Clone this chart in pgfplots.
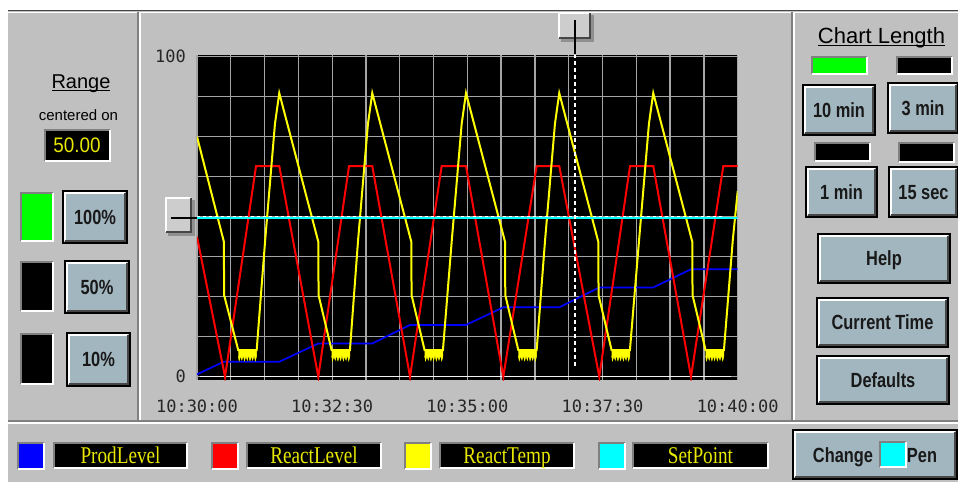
\documentclass[border=0pt]{standalone}
\usepackage{pgfplots}
\pgfplotsset{compat=1.18}
\usepackage{fontspec}
\setmainfont{Liberation Sans}
\newfontfamily\btnfont{Liberation Sans}[FakeStretch=0.8]
\newfontfamily\legfont{Liberation Serif}[FakeStretch=0.8]
\newfontfamily\numfont{Liberation Sans}[FakeStretch=0.9]
\newfontfamily\monofont{DejaVu Sans Mono}
\definecolor{guigray}{RGB}{192,192,192}
\definecolor{btncol}{RGB}{162,182,192}
\definecolor{shadowc}{RGB}{70,70,70}
\definecolor{sepc}{RGB}{128,128,128}
\definecolor{gridgray}{RGB}{165,165,165}
\definecolor{legyellow}{RGB}{232,232,0}
\definecolor{pblue}{RGB}{0,0,255}
\definecolor{pred}{RGB}{255,0,0}
\definecolor{pyellow}{RGB}{255,255,0}
\definecolor{pcyan}{RGB}{0,255,255}
% button: x1 y1 x2 y2 label  (y downward)
\newcommand{\btn}[5]{%
  \fill[btncol] (#1,#2) rectangle (#3,#4);
  \draw[white,line width=2pt] ({#1+2},{#4-2}) -- ({#1+2},{#2+2}) -- ({#3-2},{#2+2});
  \draw[shadowc,line width=2pt] ({#1+2},{#4-2}) -- ({#3-2},{#4-2}) -- ({#3-2},{#2+2});
  \draw[black,line width=1.2pt] (#1,#2) rectangle (#3,#4);
  \node[font=\btnfont\bfseries\fontsize{20.5}{22}\selectfont, text=black!90,
        text height=14.6pt, text depth=0pt, inner sep=0pt]
        at ({(#1+#3)/2},{(#2+#4)/2}) {#5};
}
% sunken indicator: x1 y1 x2 y2 colour
\newcommand{\ind}[5]{%
  \fill[#5] (#1,#2) rectangle (#3,#4);
  \draw[sepc,line width=1.2pt] (#1,#4) -- (#1,#2) -- (#3,#2);
  \draw[white,line width=1.2pt] (#1,#4) -- (#3,#4) -- (#3,#2);
}
\begin{document}
\begin{tikzpicture}
\begin{scope}[x=1pt,y=-1pt]
\fill[white] (0,0) rectangle (958,482);
\fill[guigray] (8,10) rectangle (958,482);
\draw[shadowc, line width=1.5pt] (8,10.5) -- (958,10.5);
\draw[white, line width=1pt] (8,12.5) -- (958,12.5);
\draw[sepc, line width=1.5pt] (138,12) -- (138,421);
\draw[white, line width=1.2pt] (140,12) -- (140,421);
\draw[sepc, line width=1.5pt] (792,12) -- (792,421);
\draw[white, line width=1.2pt] (794,12) -- (794,421);
\draw[sepc, line width=1.5pt] (8,421) -- (958,421);
\draw[white, line width=1.2pt] (8,423) -- (958,423);
% left panel
\node[font=\fontsize{20}{24}\selectfont, anchor=base, inner sep=0pt] at (81,88) {Range};
\draw[black, line width=1.2pt] (52,90.5) -- (110,90.5);
\node[font=\fontsize{15}{18}\selectfont, anchor=base, inner sep=0pt] at (78.5,120) {centered on};
\ind{45}{130}{110}{161}{black}
\node[font=\numfont\fontsize{21}{24}\selectfont, text=legyellow, text height=15pt, text depth=0pt, inner sep=0pt] at (77,145) {50.00};
\ind{21}{193}{53}{241}{green}
\btn{63}{191}{127}{243}{100\%}
\ind{21}{262}{53}{311}{black}
\btn{65}{261}{129}{313}{50\%}
\ind{21}{334}{53}{384}{black}
\btn{67}{333}{130}{386}{10\%}
% right panel
\node[font=\fontsize{22}{26}\selectfont, anchor=base, inner sep=0pt] at (881.5,43) {Chart Length};
\draw[black, line width=1.2pt] (818,45.5) -- (945,45.5);
\ind{812}{57}{867}{74}{green}
\ind{897}{57}{952}{74}{black}
\btn{803}{85}{875}{135}{10 min}
\btn{888}{83}{958}{133}{3 min}
\ind{815}{143}{870}{161}{black}
\ind{899}{143}{954}{162}{black}
\btn{806}{167}{877}{217}{1 min}
\btn{889}{167}{958}{217}{15 sec}
\btn{818}{234}{950}{283}{Help}
\btn{817}{298}{948}{347}{Current Time}
\btn{817}{356}{949}{404}{Defaults}
% bottom legend
\ind{18}{443}{44}{469}{pblue}
\ind{54}{443}{187}{468}{black}
\node[font=\legfont\fontsize{24}{26}\selectfont, text=legyellow, text height=16.5pt, text depth=0pt, inner sep=0pt] at (120.5,455.5) {ProdLevel};
\ind{212}{443}{238}{469}{pred}
\ind{247}{443}{381}{468}{black}
\node[font=\legfont\fontsize{24}{26}\selectfont, text=legyellow, text height=16.5pt, text depth=0pt, inner sep=0pt] at (314,455.5) {ReactLevel};
\ind{405}{443}{431}{469}{pyellow}
\ind{440}{443}{574}{468}{black}
\node[font=\legfont\fontsize{24}{26}\selectfont, text=legyellow, text height=16.5pt, text depth=0pt, inner sep=0pt] at (507,455.5) {ReactTemp};
\ind{599}{443}{625}{469}{pcyan}
\ind{633}{443}{768}{468}{black}
\node[font=\legfont\fontsize{24}{26}\selectfont, text=legyellow, text height=16.5pt, text depth=0pt, inner sep=0pt] at (700.5,455.5) {SetPoint};
\btn{793}{430}{957}{479}{}
\node[font=\btnfont\bfseries\fontsize{20.5}{22}\selectfont, text=black!90, text height=14.6pt, text depth=0pt, inner sep=0pt] at (843,455) {Change};
\ind{880}{442}{906}{467}{pcyan}
\node[font=\btnfont\bfseries\fontsize{20.5}{22}\selectfont, text=black!90, text height=14.6pt, text depth=0pt, inner sep=0pt] at (922,455) {Pen};
\end{scope}

\begin{axis}[
  at={(197pt,-380pt)}, anchor=south west,
  scale only axis, width=540.7pt, height=325pt,
  xmin=0, xmax=600, ymin=-1, ymax=100.5,
  axis background/.style={fill=black},
  axis line style={draw=none},
  xtick={0,150,300,450,600},
  xticklabels={10:30:00,10:32:30,10:35:00,10:37:30,10:40:00},
  minor xtick={37.5,75,112.5,187.5,225,262.5,337.5,375,412.5,487.5,525,562.5},
  ytick={0,100}, yticklabels={0,100},
  minor ytick={12.5,25,37.5,50,62.5,75,87.5},
  major tick length=0pt, minor tick length=0pt,
  grid=both,
  major grid style={draw=gridgray, line width=1.3pt},
  minor grid style={draw=gridgray, line width=1.3pt},
  /pgf/number format/assume math mode=true,
  tick label style={font=\monofont\fontsize{17}{20}\selectfont, text=black!85},
  xticklabel style={anchor=north, inner sep=0pt, yshift=-20pt},
  yticklabel style={anchor=east, inner sep=0pt, xshift=-11pt},
]
% zero line
\addplot[white!90!gray, line width=1.3pt] coordinates {(3.3,0) (593,0)};
% ProdLevel
\addplot[pblue, line width=1.7pt] coordinates {
(0,0.75) (29.5,4.7) (91.3,4.7) (134.6,10.4) (194.5,10.4) (236.4,16.2)
(298.5,16.2) (339.9,21.7) (402,21.7) (446.4,27.9) (506.3,27.9) (548.2,33.6) (600,33.6)};
% ReactLevel
\addplot[pred, line width=2pt] coordinates {
(0,43.75) (31.1,0) (65.5,65.8) (91.3,65.8) (134.6,0) (168.7,65.8) (194.5,65.8)
(236.4,0) (271.5,65.8) (298.5,65.8) (339.9,0) (376.9,65.8) (402,65.8)
(446.4,0) (480.5,65.8) (506.3,65.8) (548.2,0) (584,65.8) (600,65.8)};
% ReactTemp
\addplot[pyellow, line width=2pt] coordinates {
(0,75) (29.8,42.2) (30.1,25.5) (45.8,8.3) (66.2,8.3) (75.6,42.5) (86.5,79) (91.3,88.6)
(134.6,42.2) (134.9,25.5) (149.4,8.3) (169.7,8.3) (178.7,42.5) (189.7,79) (194.5,88.6)
(237.8,42.2) (238.1,25.5) (252.6,8.3) (272.9,8.3) (282.7,42.5) (293.7,79) (298.5,88.6)
(341.8,42.2) (342.1,25.5) (356.6,8.3) (376.9,8.3) (386.2,42.5) (397.2,79) (402,88.6)
(445.3,42.2) (445.6,25.5) (460.1,8.3) (480.4,8.3) (490.5,42.5) (501.5,79) (506.3,88.6)
(549.6,42.2) (549.9,25.5) (564.4,8.3) (584.7,8.3) (594.5,42.5) (600,58)};
% ReactTemp noise bands
\addplot[pyellow, fill=pyellow, line width=0.5pt] coordinates {
(45.8,8.3)(66.2,8.3)(66.1,6.5)(64.8,5.0)(63.3,6.8)(61.8,5.2)(60.3,6.5)(58.8,5.0)(57.3,6.8)
(55.8,5.1)(54.3,6.6)(52.8,5.0)(51.3,6.7)(49.8,5.2)(48.3,6.5)(46.8,5.0)(45.8,6.5)};
\addplot[pyellow, fill=pyellow, line width=0.5pt] coordinates {
(149.4,8.3)(169.7,8.3)(169.7,6.5)(168.4,5.0)(166.9,6.8)(165.4,5.2)(163.9,6.5)(162.4,5.0)(160.9,6.8)
(159.4,5.1)(157.9,6.6)(156.4,5.0)(154.9,6.7)(153.4,5.2)(151.9,6.5)(150.4,5.0)(149.4,6.5)};
\addplot[pyellow, fill=pyellow, line width=0.5pt] coordinates {
(252.6,8.3)(272.9,8.3)(272.9,6.5)(271.6,5.0)(270.1,6.8)(268.6,5.2)(267.1,6.5)(265.6,5.0)(264.1,6.8)
(262.6,5.1)(261.1,6.6)(259.6,5.0)(258.1,6.7)(256.6,5.2)(255.1,6.5)(253.6,5.0)(252.6,6.5)};
\addplot[pyellow, fill=pyellow, line width=0.5pt] coordinates {
(356.6,8.3)(376.9,8.3)(376.9,6.5)(375.6,5.0)(374.1,6.8)(372.6,5.2)(371.1,6.5)(369.6,5.0)(368.1,6.8)
(366.6,5.1)(365.1,6.6)(363.6,5.0)(362.1,6.7)(360.6,5.2)(359.1,6.5)(357.6,5.0)(356.6,6.5)};
\addplot[pyellow, fill=pyellow, line width=0.5pt] coordinates {
(460.1,8.3)(480.4,8.3)(480.4,6.5)(479.1,5.0)(477.6,6.8)(476.1,5.2)(474.6,6.5)(473.1,5.0)(471.6,6.8)
(470.1,5.1)(468.6,6.6)(467.1,5.0)(465.6,6.7)(464.1,5.2)(462.6,6.5)(461.1,5.0)(460.1,6.5)};
\addplot[pyellow, fill=pyellow, line width=0.5pt] coordinates {
(564.4,8.3)(584.7,8.3)(584.7,6.5)(583.4,5.0)(581.9,6.8)(580.4,5.2)(578.9,6.5)(577.4,5.0)(575.9,6.8)
(574.4,5.1)(572.9,6.6)(571.4,5.0)(569.9,6.7)(568.4,5.2)(566.9,6.5)(565.4,5.0)(564.4,6.5)};
% SetPoint
\addplot[pcyan, line width=1.8pt] coordinates {(0,49.5) (600,49.5)};
% cursors
\addplot[white, line width=1pt, dash pattern=on 3pt off 3pt] coordinates {(0,50.1) (584,50.1)};
\addplot[white, line width=1.3pt, dash pattern=on 4pt off 3pt] coordinates {(419.4,3.5) (419.4,100.5)};
\end{axis}

\begin{scope}[x=1pt,y=-1pt]
% left slider handle
\fill[shadowc!60] (168,200) rectangle (195,236);
\fill[guigray!80!white] (165,197) rectangle (191,232);
\draw[white, line width=2pt] (166,232) -- (166,198) -- (191,198);
\draw[shadowc, line width=1.5pt] (166,232) -- (191,232) -- (191,198);
\draw[black, line width=1.5pt] (171,218) -- (197,218);
% top slider handle
\fill[shadowc!60] (561,15) rectangle (594,42);
\fill[guigray!80!white] (558,12) rectangle (590,38);
\draw[white, line width=2pt] (559,38) -- (559,13) -- (590,13);
\draw[shadowc, line width=1.5pt] (559,38) -- (590,38) -- (590,13);
\draw[black, line width=1.5pt] (575,20) -- (575,54);
\end{scope}
\pgfresetboundingbox
\useasboundingbox (0,0) rectangle (958pt,-482pt);
\end{tikzpicture}
\end{document}
